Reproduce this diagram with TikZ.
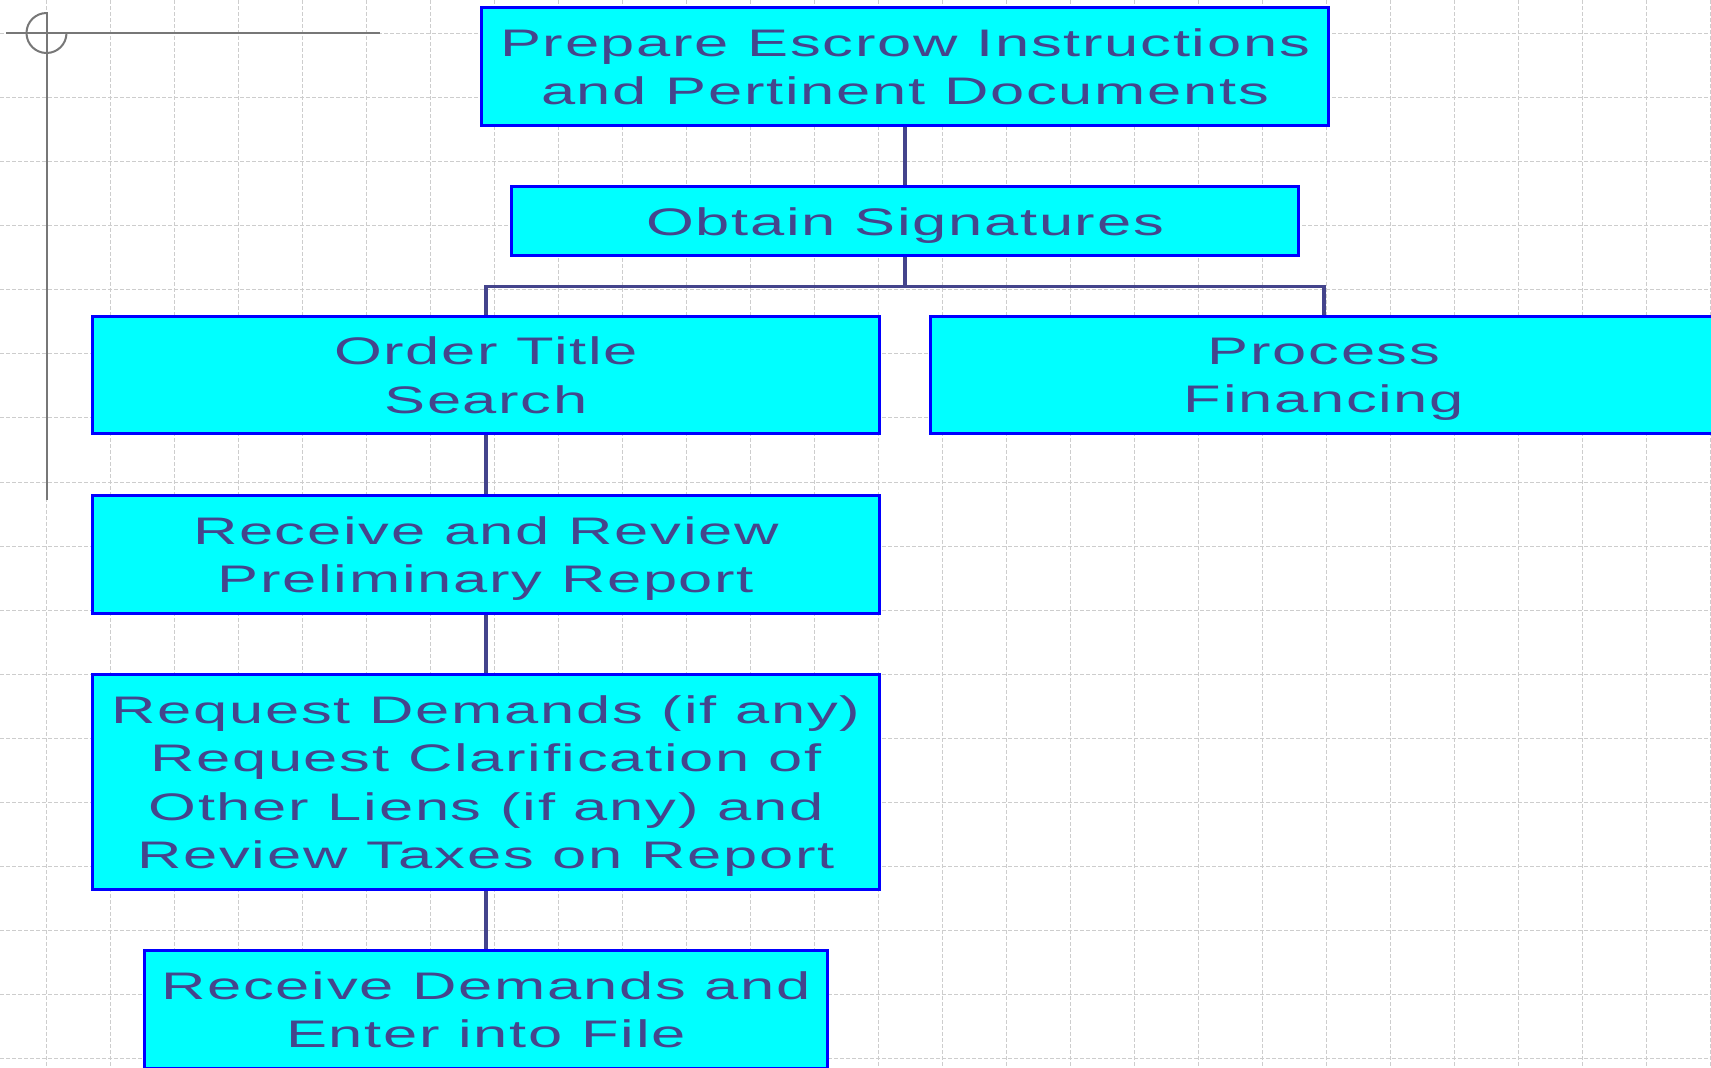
\documentclass[tikz,border=0pt]{standalone}
\usepackage{fontspec}
\newfontfamily\boxfont[FakeStretch=1.6,LetterSpace=4.5]{Liberation Sans}
\newcommand\lastline[1]{\raisebox{0pt}[\height][0pt]{#1}}
\definecolor{txt}{RGB}{69,69,140}
\definecolor{boxfill}{RGB}{0,255,255}
\definecolor{boxline}{RGB}{0,0,255}
\definecolor{conn}{RGB}{68,68,140}
\definecolor{cross}{RGB}{119,119,119}
\definecolor{gridc}{RGB}{205,205,205}
\begin{document}
\begin{tikzpicture}[x=0.5pt,y=-0.5pt,
  procbox/.style={draw=boxline, fill=boxfill, line width=1.5pt, text=txt,
    font=\boxfont\fontsize{19.2pt}{24.15pt}\selectfont, align=center,
    inner sep=0pt, anchor=center},
  link/.style={draw=conn, line width=1.6pt},
  gridline/.style={draw=gridc, line width=0.5pt, dash pattern=on 2pt off 1pt},
  crossline/.style={draw=cross, line width=1pt}]
\useasboundingbox (0,0) rectangle (1711,1067);
\clip (0,0) rectangle (1711,1067);
\fill[white] (0,0) rectangle (1711,1067);
% background grid
\foreach \i in {0,...,26} \draw[gridline] ({46.7+64*\i},0) -- ({46.7+64*\i},1067);
\foreach \j in {0,...,16} \draw[gridline] (0,{33.3+64.1*\j}) -- (1711,{33.3+64.1*\j});
% crosshair
\draw[crossline] (6,33) -- (380,33);
\draw[crossline] (46.5,12) -- (46.5,500);
\draw[crossline] (46.5,13) arc[start angle=90, end angle=360, radius=10pt];
% boxes
\node[procbox, minimum width=423.5pt, minimum height=59.2pt] (b1) at (905,66.5)
  {Prepare Escrow Instructions\\and Pertinent Documents};
\node[procbox, minimum width=393.8pt, minimum height=34.6pt] (b2) at (905,221.35)
  {\lastline{Obtain Signatures}};
\node[procbox, minimum width=393.8pt, minimum height=58.6pt] (b3) at (486,375.35)
  {Order Title\\Search};
\node[procbox, minimum width=394pt, minimum height=58.6pt] (b4) at (1324,375.35)
  {Process\\\lastline{Financing}};
\node[procbox, minimum width=393.8pt, minimum height=58.9pt] (b5) at (486,554.3)
  {Receive and Review\\\lastline{Preliminary Report}};
\node[procbox, minimum width=393.8pt, minimum height=107.6pt] (b6) at (486,781.95)
  {Request Demands (if any)\\Request Clarification of\\Other Liens (if any) and\\\lastline{Review Taxes on Report}};
\node[procbox, minimum width=341.5pt, minimum height=59pt] (b7) at (486,1009.8)
  {Receive Demands and\\Enter into File};
% connectors
\coordinate (jy) at (0,286.7);
\coordinate (j) at (b2.south |- jy);
\draw[link] (b1.south) -- (b2.north);
\draw[link] (b2.south) -- (j);
\draw[link] (j) -| (b3.north);
\draw[link] (j) -| (b4.north);
\draw[link] (b3.south) -- (b5.north);
\draw[link] (b5.south) -- (b6.north);
\draw[link] (b6.south) -- (b7.north);
\end{tikzpicture}
\end{document}
